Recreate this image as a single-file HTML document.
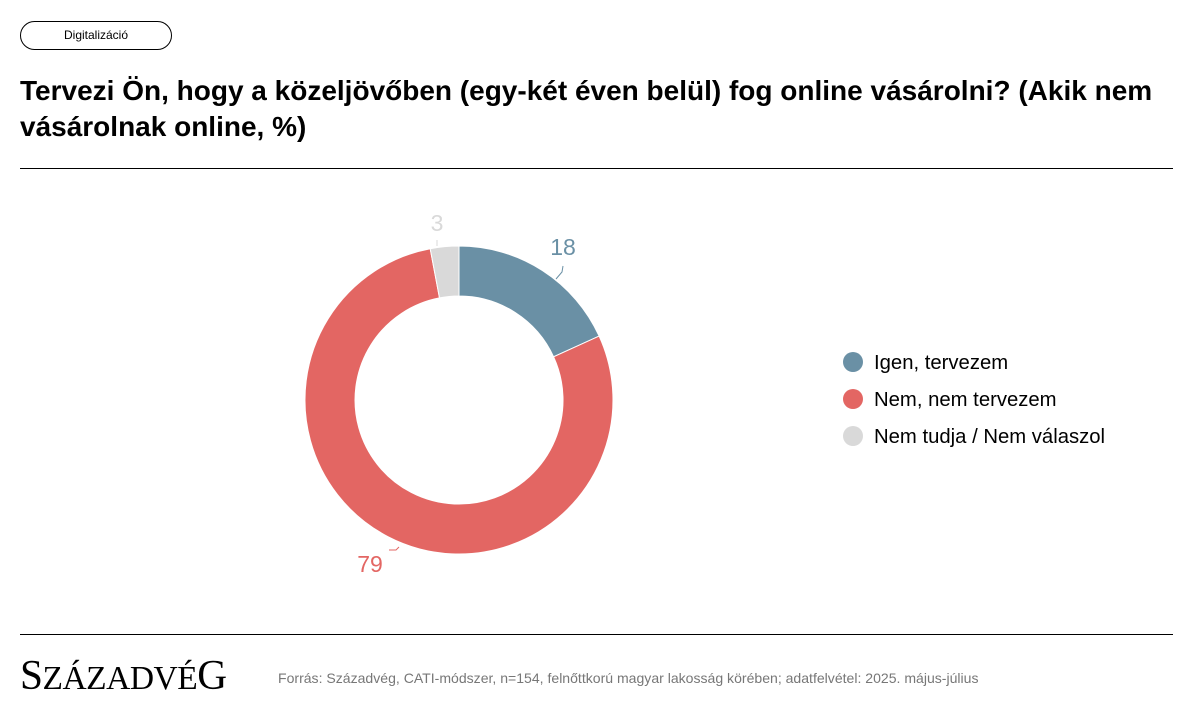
<!DOCTYPE html>
<html><head><meta charset="utf-8"><style>
html,body{margin:0;padding:0;background:#fff;}
body{width:1193px;height:712px;position:relative;overflow:hidden;font-family:"Liberation Sans",sans-serif;color:#000;}
.tag{position:absolute;left:20px;top:21px;width:152px;height:29px;border:1px solid #000;border-radius:15px;box-sizing:border-box;font-size:12px;text-align:center;line-height:27px;}
h1{position:absolute;left:20px;top:73px;margin:0;font-size:28px;font-weight:bold;line-height:36px;letter-spacing:0px;width:1160px;}
.hr{position:absolute;left:20px;width:1153px;height:1px;background:#000;}
.leg{position:absolute;left:843px;font-size:20.3px;}
.leg span{display:inline-block;width:20px;height:20px;border-radius:50%;vertical-align:middle;margin-right:11px;position:relative;top:-2px;}
.logo{position:absolute;left:20px;top:652px;font-family:"Liberation Serif",serif;font-size:34px;letter-spacing:-0.5px;transform:scaleX(0.985);transform-origin:left;}
.logo b{font-weight:normal;font-size:42px;}
.src{position:absolute;left:278px;top:670px;font-size:14.05px;color:#777;}
</style></head><body>
<div class="tag">Digitalizáció</div>
<h1>Tervezi Ön, hogy a közeljövőben (egy-két éven belül) fog online vásárolni? (Akik nem vásárolnak online, %)</h1>
<div class="hr" style="top:168px"></div>
<svg width="1193" height="712" style="position:absolute;left:0;top:0">
<path d="M459,246 A154,154 0 0 1 599.1,336.1 L553.6,356.8 A104,104 0 0 0 459,296 Z" fill="#6a90a5" stroke="#fff" stroke-width="1"/>
<path d="M599.1,336.1 A154,154 0 1 1 430.2,248.7 L439.5,297.9 A104,104 0 1 0 553.6,356.8 Z" fill="#e36663" stroke="#fff" stroke-width="1"/>
<path d="M430.2,248.7 A154,154 0 0 1 459,246 L459,296 A104,104 0 0 0 439.5,297.9 Z" fill="#d9d9d9" stroke="#fff" stroke-width="1"/>
<polyline points="563,266 562,272 556,279" fill="none" stroke="#6a90a5" stroke-width="1"/>
<polyline points="399,547 396,550 389,550" fill="none" stroke="#e36663" stroke-width="1"/>
<line x1="437" y1="240" x2="437" y2="246" stroke="#d9d9d9" stroke-width="1"/>
<text x="563" y="255" font-family="Liberation Sans" font-size="23" fill="#6a90a5" text-anchor="middle">18</text>
<text x="370" y="572" font-family="Liberation Sans" font-size="23" fill="#e36663" text-anchor="middle">79</text>
<text x="437" y="231" font-family="Liberation Sans" font-size="23" fill="#d9d9d9" text-anchor="middle">3</text>
</svg>
<div class="leg" style="top:352px"><span style="background:#6a90a5"></span>Igen, tervezem</div>
<div class="leg" style="top:389px"><span style="background:#e36663"></span>Nem, nem tervezem</div>
<div class="leg" style="top:426px"><span style="background:#d9d9d9"></span>Nem tudja / Nem válaszol</div>
<div class="hr" style="top:634px"></div>
<div class="logo"><b>S</b>ZÁZADVÉ<b>G</b></div>
<div class="src">Forrás: Századvég, CATI-módszer, n=154, felnőttkorú magyar lakosság körében; adatfelvétel: 2025. május-július</div>
</body></html>
